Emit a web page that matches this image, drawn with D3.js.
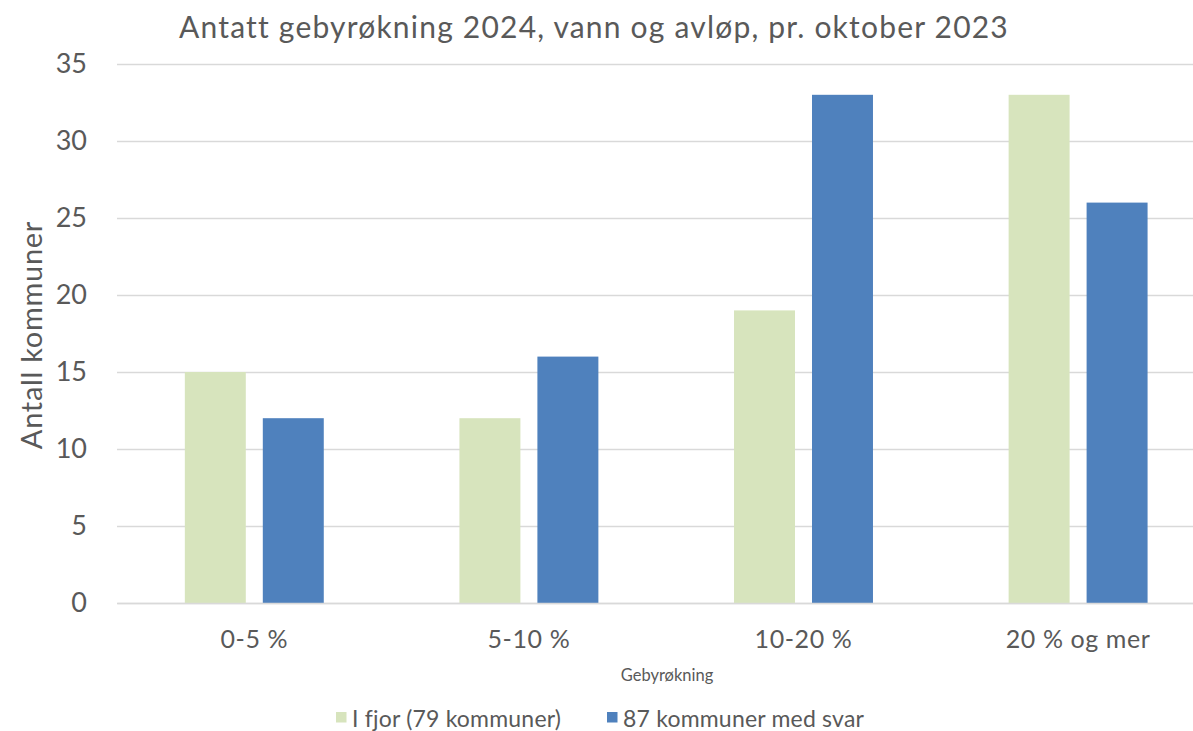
<!DOCTYPE html>
<html><head><meta charset="utf-8">
<script src="https://cdn.jsdelivr.net/npm/d3@7"></script>
<style>body{margin:0;background:#fff}svg{display:block}text{font-family:Lato,"Open Sans",sans-serif;fill:#595959}</style>
</head><body><svg id="c" width="1193" height="731"></svg>
<script>
const categories = ["0-5 %", "5-10 %", "10-20 %", "20 % og mer"];
const seriesNames = ["I fjor (79 kommuner)", "87 kommuner med svar"];
const lastYear = [15, 12, 19, 33];
const thisYear = [12, 16, 33, 26];
const yTicks = [0, 5, 10, 15, 20, 25, 30, 35];
const colors = ["#D7E4BD", "#4F81BD"];

const svg = d3.select("#c");
const x0 = d3.scaleBand().domain(categories).range([117, 1215.4]).paddingInner(0.494).paddingOuter(0.247);
const x1 = d3.scaleBand().domain([0, 1]).range([0, x0.bandwidth()]).paddingInner(0.218);
const y = d3.scaleLinear().domain([0, 35]).range([603, 64]);

// gridlines
const yAxis = d3.axisLeft(y).tickValues(yTicks).tickSize(-(1215.4 - 117)).tickPadding(30);
const gy = svg.append("g").attr("transform", "translate(117,0)").call(yAxis);
gy.select(".domain").remove();
gy.selectAll(".tick line").attr("stroke", "#d9d9d9").attr("stroke-width", 1.3);
gy.selectAll(".tick text").attr("font-size", 27).attr("fill", "#595959").style("font-family", "Lato");

// bars
const rows = categories.map((c, i) => ({c, v: [lastYear[i], thisYear[i]]}));
const g = svg.append("g");
rows.forEach(r => {
  r.v.forEach((v, j) => {
    g.append("rect")
      .attr("x", x0(r.c) + x1(j))
      .attr("width", x1.bandwidth())
      .attr("y", y(v))
      .attr("height", y(0) - y(v))
      .attr("fill", colors[j]);
  });
});

// x axis
const xAxis = d3.axisBottom(x0).tickSize(0).tickPadding(27);
const gx = svg.append("g").attr("transform", `translate(0,${y(0)})`).call(xAxis);
gx.select(".domain").attr("stroke", "#d9d9d9").attr("stroke-width", 1.3);
gx.selectAll(".tick text").attr("font-size", 25).attr("letter-spacing", 0.6).attr("fill", "#595959").style("font-family", "Lato");

// title
svg.append("text").attr("x", 594).attr("y", 38).attr("text-anchor", "middle")
  .attr("font-size", 30).attr("letter-spacing", 1.2).text("Antatt gebyrøkning 2024, vann og avløp, pr. oktober 2023");
// y title
svg.append("text").attr("transform", "translate(42,335) rotate(-90)").attr("text-anchor", "middle")
  .attr("font-size", 29).attr("letter-spacing", 0.7).text("Antall kommuner");
// x title
svg.append("text").attr("x", 667).attr("y", 681).attr("text-anchor", "middle")
  .attr("font-size", 16.5).text("Gebyrøkning");

// legend
const leg = [{x: 336, tx: 352}, {x: 607, tx: 623}];
seriesNames.forEach((n, j) => {
  svg.append("rect").attr("x", leg[j].x).attr("y", 712).attr("width", 10.5).attr("height", 10.5).attr("fill", colors[j]);
  svg.append("text").attr("x", leg[j].tx).attr("y", 727).attr("font-size", 23).attr("letter-spacing", 0.2).text(n);
});
</script></body></html>
